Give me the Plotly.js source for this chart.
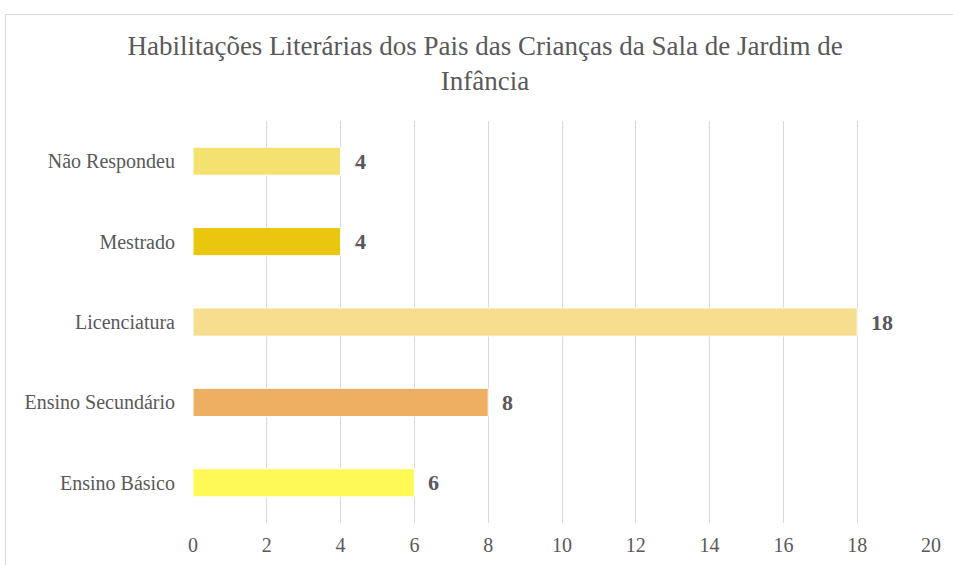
<!DOCTYPE html>
<html>
<head>
<meta charset="utf-8">
<script src="https://cdn.plot.ly/plotly-3.0.1.min.js"></script>
<style>
  html, body { margin: 0; padding: 0; background: #fff; }
  #wrap { position: relative; width: 953px; height: 565px; overflow: hidden; }
  #chart { position: absolute; left: 0; top: 0; width: 953px; height: 565px; }
  #frame { position: absolute; left: 5px; top: 14px; width: 1000px; height: 600px;
           border: 1px solid #d9d9d9; pointer-events: none; box-sizing: border-box; }
</style>
</head>
<body>
<div id="wrap">
  <div id="chart"></div>
  <div id="frame"></div>
</div>
<script>
const categories = ["Ensino Básico", "Ensino Secundário", "Licenciatura", "Mestrado", "Não Respondeu"];
const values = [6, 8, 18, 4, 4];
const barColors = ["#FFF955", "#EDAF62", "#F7DE8E", "#E9C70F", "#F5E170"];
const xTickValues = [0, 2, 4, 6, 8, 10, 12, 14, 16, 18, 20];
const titleText = "Habilitações Literárias dos Pais das Crianças da Sala de Jardim de<br>Infância";

const fontFamily = "Liberation Serif";
const gray = "#595959";

const trace = {
  type: "bar",
  orientation: "h",
  y: categories,
  x: values,
  width: 0.35,
  marker: { color: barColors, line: { color: "#ffffff", width: 1 } },
  hoverinfo: "skip"
};

const annotations = categories.map((c, i) => ({
  x: values[i], y: c, xref: "x", yref: "y",
  text: "<b>" + values[i] + "</b>",
  showarrow: false, xanchor: "left", xshift: 12,
  font: { family: fontFamily, size: 22, color: gray }
}));

const layout = {
  width: 953, height: 565,
  margin: { l: 193, r: 22, t: 121, b: 42 },
  paper_bgcolor: "#ffffff",
  plot_bgcolor: "#ffffff",
  showlegend: false,
  font: { family: fontFamily, color: gray },
  title: {
    text: titleText,
    font: { family: fontFamily, size: 27, color: gray },
    xref: "container", x: 0.509, xanchor: "center",
    yref: "container", y: 0.903, yanchor: "middle"
  },
  xaxis: {
    range: [0, 20],
    tickvals: xTickValues,
    ticktext: xTickValues.map(String),
    showgrid: true, gridcolor: "#d9d9d9", gridwidth: 1,
    zeroline: false, showline: false,
    ticks: "", ticklabelstandoff: 8,
    tickfont: { family: fontFamily, size: 20, color: gray },
    fixedrange: true
  },
  yaxis: {
    type: "category",
    range: [-0.5, 4.5],
    showgrid: false, zeroline: false, showline: false,
    ticks: "", ticklabelstandoff: 17,
    tickfont: { family: fontFamily, size: 20, color: gray },
    fixedrange: true
  },
  annotations: annotations
};

Plotly.newPlot("chart", [trace], layout, { displayModeBar: false, staticPlot: true });
</script>
</body>
</html>
